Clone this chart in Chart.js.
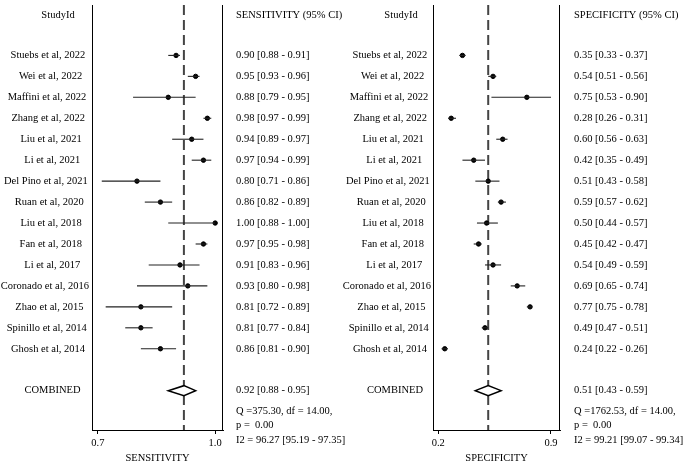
<!DOCTYPE html>
<html>
<head>
<meta charset="utf-8">
<script src="https://cdn.jsdelivr.net/npm/chart.js@4.4.0/dist/chart.umd.min.js"></script>
<style>
  html, body { margin: 0; padding: 0; background: #fff; }
  #wrap { position: relative; width: 685px; height: 465px; }
  canvas { position: absolute; left: 0; top: 0; }
</style>
</head>
<body>
<div id="wrap">
  <canvas id="graficoSens" width="685" height="465"></canvas>
  <canvas id="graficoSpec" width="685" height="465"></canvas>
</div>
<script>
const estudios = [
  "Stuebs et al, 2022", "Wei et al, 2022", "Maffini et al, 2022", "Zhang et al, 2022",
  "Liu et al, 2021", "Li et al, 2021", "Del Pino et al, 2021", "Ruan et al, 2020",
  "Liu et al, 2018", "Fan et al, 2018", "Li et al, 2017", "Coronado et al, 2016",
  "Zhao et al, 2015", "Spinillo et al, 2014", "Ghosh et al, 2014"
];

const sensEst = [0.90, 0.95, 0.88, 0.98, 0.94, 0.97, 0.80, 0.86, 1.00, 0.97, 0.91, 0.93, 0.81, 0.81, 0.86];
const sensLo  = [0.88, 0.93, 0.79, 0.97, 0.89, 0.94, 0.71, 0.82, 0.88, 0.95, 0.83, 0.80, 0.72, 0.77, 0.81];
const sensHi  = [0.91, 0.96, 0.95, 0.99, 0.97, 0.99, 0.86, 0.89, 1.00, 0.98, 0.96, 0.98, 0.89, 0.84, 0.90];
const sensComb = [0.92, 0.88, 0.95];          // estimado, li, ls
const sensHet  = [375.30, 14.00, 0.00, 96.27, 95.19, 97.35]; // Q, df, p, I2, li, ls
const sensTicks = [0.7, 1.0];

const specEst = [0.35, 0.54, 0.75, 0.28, 0.60, 0.42, 0.51, 0.59, 0.50, 0.45, 0.54, 0.69, 0.77, 0.49, 0.24];
const specLo  = [0.33, 0.51, 0.53, 0.26, 0.56, 0.35, 0.43, 0.57, 0.44, 0.42, 0.49, 0.65, 0.75, 0.47, 0.22];
const specHi  = [0.37, 0.56, 0.90, 0.31, 0.63, 0.49, 0.58, 0.62, 0.57, 0.47, 0.59, 0.74, 0.78, 0.51, 0.26];
const specComb = [0.51, 0.43, 0.59];
const specHet  = [1762.53, 14.00, 0.00, 99.21, 99.07, 99.34];
const specTicks = [0.2, 0.9];

const FUENTE = '"Liberation Serif", "Times New Roman", serif';
const TAM = 10.5;

function fmtCI(e, l, h) {
  return `${e.toFixed(2)} [${l.toFixed(2)} - ${h.toFixed(2)}]`;
}

function crearPanel(id, p) {
  const ctx = document.getElementById(id).getContext('2d');

  // lineas de IC, una por estudio
  const ciSets = estudios.map((e, i) => ({
    type: 'line',
    data: [{ x: p.lo[i], y: i }, { x: p.hi[i], y: i }],
    borderColor: '#222',
    borderWidth: 1.1,
    pointRadius: 0,
    showLine: true
  }));

  const forest = {
    id: 'forest_' + id,
    beforeDatasetsDraw(chart) {
      const { ctx, chartArea: a, scales: { x } } = chart;
      ctx.save();
      ctx.strokeStyle = '#000';
      ctx.lineWidth = 1;
      ctx.beginPath();
      ctx.moveTo(Math.round(a.left) + 0.5, a.top);
      ctx.lineTo(Math.round(a.left) + 0.5, a.bottom);
      ctx.moveTo(Math.round(a.right) - 0.5, a.top);
      ctx.lineTo(Math.round(a.right) - 0.5, a.bottom);
      ctx.stroke();
      // linea del combinado
      const xc = x.getPixelForValue(p.comb[0]);
      ctx.setLineDash([10, 5]);
      ctx.strokeStyle = '#444';
      ctx.lineWidth = 2;
      ctx.beginPath();
      ctx.moveTo(xc, a.top);
      ctx.lineTo(xc, a.bottom);
      ctx.stroke();
      ctx.restore();
    },
    afterDatasetsDraw(chart) {
      const { ctx, scales: { x, y } } = chart;
      const yc = y.getPixelForValue(16);
      ctx.save();
      ctx.beginPath();
      ctx.moveTo(x.getPixelForValue(p.comb[1]), yc);
      ctx.lineTo(x.getPixelForValue(p.comb[0]), yc - 5);
      ctx.lineTo(x.getPixelForValue(p.comb[2]), yc);
      ctx.lineTo(x.getPixelForValue(p.comb[0]), yc + 5);
      ctx.closePath();
      ctx.fillStyle = '#fff';
      ctx.fill();
      ctx.strokeStyle = '#000';
      ctx.lineWidth = 1.5;
      ctx.stroke();
      ctx.restore();
    },
    afterDraw(chart) {
      const { ctx, scales: { y } } = chart;
      ctx.save();
      ctx.font = `${TAM}px ${FUENTE}`;
      ctx.fillStyle = '#000';
      ctx.textBaseline = 'middle';

      ctx.textAlign = 'center';
      ctx.fillText("StudyId", p.headX, y.getPixelForValue(-1.93));
      // los nombres largos quedan un poco a la izquierda, como en el original
      estudios.forEach((e, i) => {
        const w = ctx.measureText(e).width;
        ctx.fillText(e, p.labX - 0.23 * (w - 70), y.getPixelForValue(i));
      });
      ctx.fillText("COMBINED", p.combX, y.getPixelForValue(16));

      ctx.textAlign = 'left';
      ctx.fillText(p.cabecera, p.txtX, y.getPixelForValue(-1.93));
      estudios.forEach((e, i) => ctx.fillText(fmtCI(p.est[i], p.lo[i], p.hi[i]), p.txtX, y.getPixelForValue(i)));
      ctx.fillText(fmtCI(p.comb[0], p.comb[1], p.comb[2]), p.txtX, y.getPixelForValue(16));
      const h = p.het;
      ctx.fillText(`Q =${h[0].toFixed(2)}, df = ${h[1].toFixed(2)},`, p.txtX, y.getPixelForValue(17));
      ctx.fillText(`p =  ${h[2].toFixed(2)}`, p.txtX, y.getPixelForValue(17.65));
      ctx.fillText(`I2 = ${h[3].toFixed(2)} [${h[4].toFixed(2)} - ${h[5].toFixed(2)}]`, p.txtX, y.getPixelForValue(18.35));
      ctx.restore();
    }
  };

  new Chart(ctx, {
    type: 'scatter',
    data: {
      datasets: [
        ...ciSets,
        {
          data: p.est.map((v, i) => ({ x: v, y: i })),
          pointRadius: 2.2,
          pointStyle: 'circle',
          backgroundColor: '#000',
          borderColor: '#000'
        }
      ]
    },
    options: {
      responsive: false,
      animation: false,
      layout: { padding: { left: p.left, right: 685 - p.right, top: 0, bottom: 0 } },
      plugins: { legend: { display: false }, tooltip: { enabled: false } },
      scales: {
        x: {
          type: 'linear',
          min: p.min,
          max: p.max,
          afterBuildTicks: ax => { ax.ticks = p.ticks.map(v => ({ value: v })); },
          afterFit: ax => { ax.height = 35; },
          ticks: {
            callback: v => v.toFixed(1),
            font: { family: FUENTE, size: TAM },
            color: '#000',
            padding: 3,
            maxRotation: 0,
            autoSkip: false
          },
          grid: { drawOnChartArea: false, drawTicks: true, tickLength: 4, color: '#000' },
          border: { display: true, color: '#000', width: 1 },
          title: { display: true, text: p.titulo, font: { family: FUENTE, size: TAM }, color: '#000', padding: 0 }
        },
        y: { type: 'linear', reverse: true, min: -2.406, max: 17.877, display: false }
      }
    },
    plugins: [forest]
  });
}

crearPanel('graficoSens', {
  est: sensEst, lo: sensLo, hi: sensHi, comb: sensComb, het: sensHet, ticks: sensTicks,
  min: 0.685, max: 1.02, left: 92, right: 223,
  titulo: "SENSITIVITY", cabecera: "SENSITIVITY (95% CI)",
  labX: 49, headX: 58, combX: 52.5, txtX: 236
});

crearPanel('graficoSpec', {
  est: specEst, lo: specLo, hi: specHi, comb: specComb, het: specHet, ticks: specTicks,
  min: 0.167, max: 0.956, left: 433, right: 560,
  titulo: "SPECIFICITY", cabecera: "SPECIFICITY (95% CI)",
  labX: 391, headX: 401, combX: 395, txtX: 574
});
</script>
</body>
</html>
